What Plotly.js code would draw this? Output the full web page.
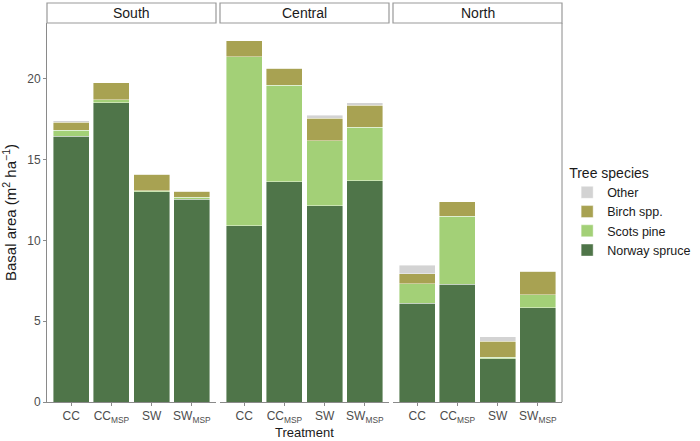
<!DOCTYPE html>
<html>
<head>
<meta charset="utf-8">
<script src="https://cdn.plot.ly/plotly-3.0.1.min.js"></script>
<style>html,body{margin:0;padding:0;background:#fff;}#chart{width:700px;height:441px;}</style>
</head>
<body>
<div id="chart"></div>
<script>
// Data
const regions = ["South", "Central", "North"];
const treatments = ["CC", "CC_MSP", "SW", "SW_MSP"];
const tickLabels = ["CC", "CC<sub>MSP</sub>", "SW", "SW<sub>MSP</sub>"];
const species = ["Norway spruce", "Scots pine", "Birch spp.", "Other"];
const speciesColors = ["#4F7549", "#A3D077", "#A8A252", "#D3D3D3"];

// values per region: [CC, CC_MSP, SW, SW_MSP]
const southSpruce = [16.45, 18.5, 13.0, 12.55];
const southPine   = [0.35, 0.2, 0.08, 0.1];
const southBirch  = [0.5, 1.05, 1.02, 0.37];
const southOther  = [0.08, 0.0, 0.0, 0.0];

const centralSpruce = [10.9, 13.63, 12.15, 13.68];
const centralPine   = [10.45, 5.95, 4.0, 3.32];
const centralBirch  = [1.0, 1.05, 1.4, 1.35];
const centralOther  = [0.0, 0.0, 0.18, 0.15];

const northSpruce = [6.12, 7.27, 2.66, 5.84];
const northPine   = [1.2, 4.23, 0.12, 0.8];
const northBirch  = [0.6, 0.88, 0.99, 1.45];
const northOther  = [0.53, 0.0, 0.28, 0.0];

const regionData = [
  [southSpruce, southPine, southBirch, southOther],
  [centralSpruce, centralPine, centralBirch, centralOther],
  [northSpruce, northPine, northBirch, northOther]
];

const axisIds = ["x", "x2", "x3"];
const traces = [];
regions.forEach((r, ri) => {
  species.forEach((s, si) => {
    traces.push({
      type: "bar",
      name: s,
      x: treatments,
      y: regionData[ri][si],
      xaxis: axisIds[ri],
      yaxis: "y",
      marker: {color: speciesColors[si], line: {color: "rgba(255,255,255,0.7)", width: 0.6}},
      legendgroup: s,
      showlegend: ri === 0,
      hoverinfo: "skip"
    });
  });
});

const L = 47, R = 138, T = 23, B = 39;
const W = 700 - L - R, H = 441 - T - B;
const gap = 4;
const pw = (W - 2 * gap) / 3;
const domains = [
  [0, pw / W],
  [(pw + gap) / W, (2 * pw + gap) / W],
  [(2 * pw + 2 * gap) / W, 1]
];
const stripH = 20 / H;
const lineCol = "#8a8a8a";
const tickFont = {family: "Liberation Sans, Arial, sans-serif", size: 12, color: "#4D4D4D"};

function xaxis(i) {
  return {
    domain: domains[i],
    anchor: "y",
    type: "category",
    categoryorder: "array",
    categoryarray: treatments,
    range: [-0.6, 3.6],
    tickmode: "array",
    tickvals: treatments,
    ticktext: tickLabels,
    showline: true,
    linecolor: lineCol,
    linewidth: 1,
    ticks: "outside",
    ticklen: 3,
    tickcolor: lineCol,
    tickfont: tickFont,
    showgrid: false,
    zeroline: false,
    automargin: false,
    fixedrange: true
  };
}

const shapes = [];
const annotations = [];
regions.forEach((r, i) => {
  shapes.push({
    type: "rect", xref: "paper", yref: "paper",
    x0: domains[i][0], x1: domains[i][1],
    y0: 1, y1: 1 + stripH,
    line: {color: "#999999", width: 1.2},
    fillcolor: "#ffffff"
  });
  annotations.push({
    xref: "paper", yref: "paper",
    x: (domains[i][0] + domains[i][1]) / 2, y: 1 + stripH / 2,
    text: r, showarrow: false,
    xanchor: "center", yanchor: "middle",
    font: {family: "Liberation Sans, Arial, sans-serif", size: 14, color: "#1a1a1a"}
  });
});
// x-axis title (below central panel)
annotations.push({
  xref: "paper", yref: "paper",
  x: (domains[1][0] + domains[1][1]) / 2, y: -(432.5 - (441 - B)) / H,
  text: "Treatment", showarrow: false,
  xanchor: "center", yanchor: "middle",
  borderpad: 0,
  font: {family: "Liberation Sans, Arial, sans-serif", size: 13, color: "#1a1a1a"}
});
// right border of last panel
shapes.push({type: "line", xref: "paper", yref: "paper", x0: 1, x1: 1, y0: 0, y1: 1,
  line: {color: lineCol, width: 1}});

const layout = {
  width: 700, height: 441,
  margin: {l: L, r: R, t: T, b: B, pad: 0, autoexpand: false},
  paper_bgcolor: "#ffffff",
  plot_bgcolor: "#ffffff",
  barmode: "stack",
  bargap: 0.1,
  font: {family: "Liberation Sans, Arial, sans-serif", color: "#1a1a1a"},
  xaxis: xaxis(0),
  xaxis2: xaxis(1),
  xaxis3: xaxis(2),
  yaxis: {
    anchor: "x",
    range: [0, 23.44],
    tickvals: [0, 5, 10, 15, 20],
    ticks: "outside",
    ticklen: 3,
    tickcolor: lineCol,
    tickfont: tickFont,
    showline: true,
    linecolor: lineCol,
    linewidth: 1,
    showgrid: false,
    zeroline: false,
    automargin: false,
    fixedrange: true,
    title: {text: "Basal area (m<sup>2</sup> ha<sup>\u22121</sup>)", font: {size: 15, color: "#1a1a1a"}, standoff: 6}
  },
  legend: {
    x: 1.01, xanchor: "left",
    y: 0.5, yanchor: "middle",
    traceorder: "reversed",
    title: {text: "Tree species", font: {size: 14, color: "#1a1a1a"}},
    font: {size: 12.5, color: "#1a1a1a"},
    tracegroupgap: 0,
    itemwidth: 30,
    bgcolor: "rgba(0,0,0,0)"
  },
  shapes: shapes,
  annotations: annotations,
  showlegend: true
};

Plotly.newPlot("chart", traces, layout, {displayModeBar: false, staticPlot: true});
</script>
</body>
</html>
